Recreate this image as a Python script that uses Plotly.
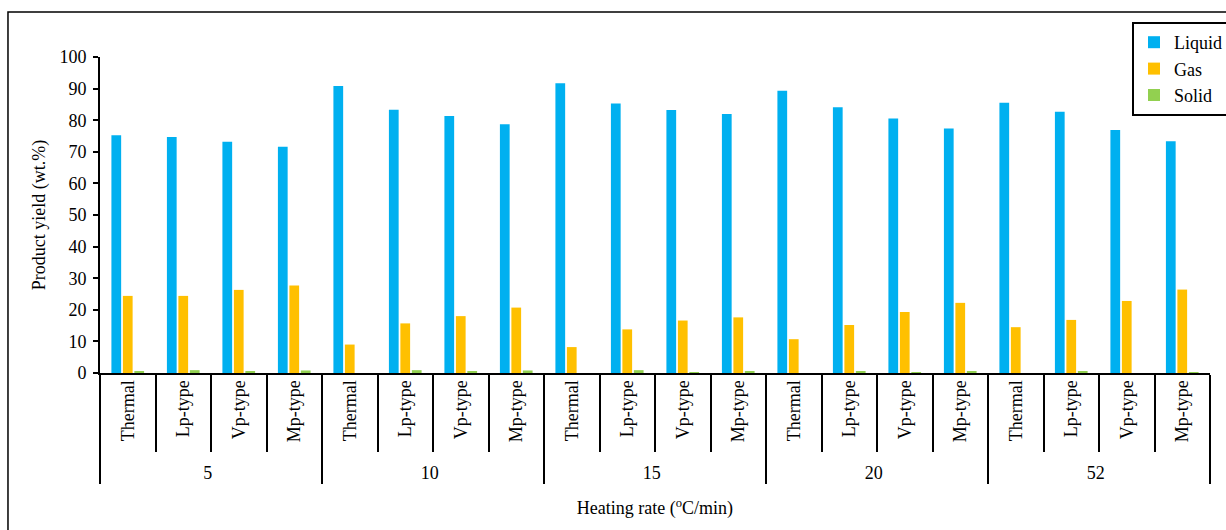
import plotly.graph_objects as go

# Heating rates (outer category level) and catalyst types (inner level)
heating_rates = ["5", "10", "15", "20", "52"]
catalyst_types = ["Thermal", "Lp-type", "Vp-type", "Mp-type"]

# Product yields (wt.%), ordered rate by rate, type by type
liquid = [75.2, 74.7, 73.2, 71.6,
          90.8, 83.3, 81.3, 78.7,
          91.7, 85.3, 83.2, 82.0,
          89.3, 84.1, 80.5, 77.4,
          85.5, 82.7, 76.9, 73.3]
gas = [24.4, 24.4, 26.3, 27.7,
       9.0, 15.7, 18.0, 20.7,
       8.2, 13.8, 16.6, 17.6,
       10.7, 15.2, 19.3, 22.2,
       14.5, 16.8, 22.8, 26.4]
solid = [0.5, 0.9, 0.6, 0.8,
         0.0, 0.9, 0.5, 0.8,
         0.0, 0.9, 0.2, 0.5,
         0.0, 0.5, 0.2, 0.4,
         0.0, 0.5, 0.0, 0.2]

outer = [r for r in heating_rates for _ in catalyst_types]
inner = [t for _ in heating_rates for t in catalyst_types]
x_cats = [outer, inner]

FONT = "Liberation Serif"

fig = go.Figure()
for name, vals, color in [("Liquid", liquid, "#00B0F0"),
                          ("Gas", gas, "#FFC000"),
                          ("Solid", solid, "#92D050")]:
    fig.add_trace(go.Bar(x=x_cats, y=vals, name=name,
                         marker=dict(color=color, line=dict(width=0))))

fig.update_layout(
    width=1226, height=530,
    margin=dict(l=100, r=16, t=57, b=157, autoexpand=False),
    paper_bgcolor="white", plot_bgcolor="white",
    barmode="group", bargap=0.38, bargroupgap=0.15,
    font=dict(family=FONT, size=18, color="black"),
    showlegend=True,
    legend=dict(xref="container", yref="container",
                x=1132 / 1226, y=1 - 22 / 530,
                xanchor="left", yanchor="top",
                bordercolor="black", borderwidth=2, bgcolor="white",
                font=dict(family=FONT, size=18, color="black"),
                itemwidth=30, tracegroupgap=0),
    xaxis=dict(
        type="multicategory",
        showline=True, linecolor="black", linewidth=2,
        ticks="outside", tickson="boundaries", ticklen=77,
        tickcolor="black", tickwidth=1.5,
        tickangle=-90, ticklabelstandoff=-2,
        showdividers=True, dividercolor="black", dividerwidth=1.5,
        showgrid=False,
        tickfont=dict(family=FONT, size=18),
        title=dict(text="Heating rate (<sup>o</sup>C/min)",
                   font=dict(family=FONT, size=18), standoff=20),
    ),
    yaxis=dict(
        range=[0, 100], dtick=10,
        showline=True, linecolor="black", linewidth=2,
        ticks="outside", ticklen=5, tickcolor="black", tickwidth=1.5,
        ticklabelstandoff=3,
        showgrid=False, zeroline=False,
        tickfont=dict(family=FONT, size=18),
        title=dict(text="Product yield (wt.%)",
                   font=dict(family=FONT, size=18), standoff=9),
    ),
    shapes=[dict(type="rect", xref="paper", yref="paper",
                 x0=-0.0829, x1=1.03, y0=-0.6, y1=1.1424,
                 line=dict(color="black", width=1.5), layer="below")],
)

fig.write_html("out.html")
